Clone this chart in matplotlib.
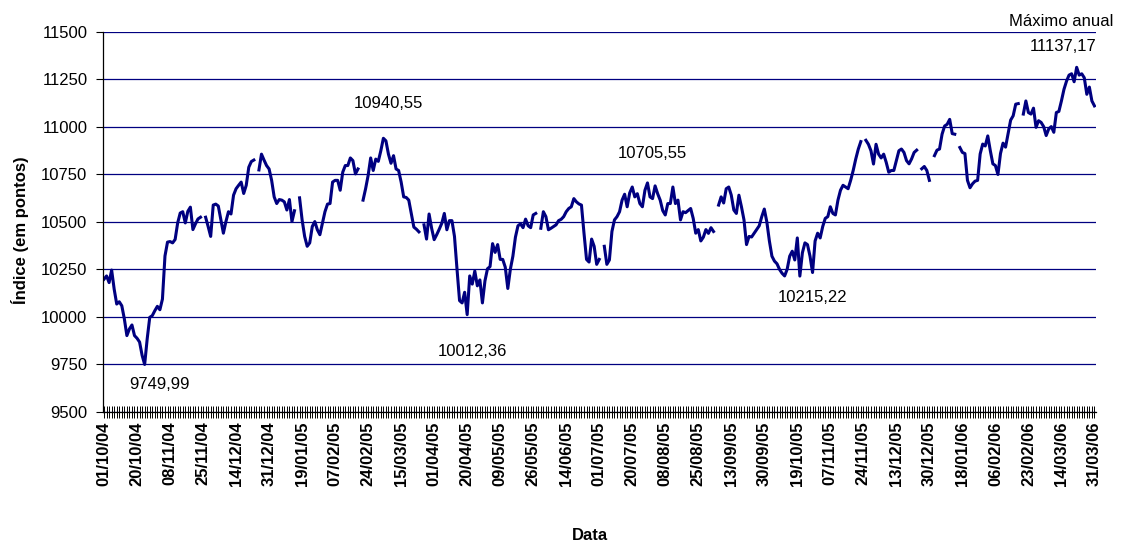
import numpy as np
import pandas as pd
import matplotlib
matplotlib.use("Agg")
import matplotlib.pyplot as plt

plt.rcParams["font.family"] = ["Liberation Sans", "DejaVu Sans"]

nan = np.nan

# trading days (weekdays), holidays left blank
dates = pd.bdate_range("2004-10-01", "2006-03-31")

# closing index, month by month
oct04 = [10199, 10216, 10181, 10247, 10146, 10068, 10080, 10059, 9990, 9902, 9937,
         9958, 9902, 9888, 9868, 9798, 9749.99, 9885, 9998, 10007, 10033]
nov04 = [10056, 10038, 10094, 10321, 10394, 10397, 10390, 10408, 10495, 10547, 10554,
         10495, 10556, 10578, 10460, 10490, 10516, 10525, nan, 10525, 10476, 10424]
dec04 = [10589, 10594, 10584, 10511, 10441, 10502, 10554, 10542, 10641, 10675, 10693,
         10710, 10650, 10693, 10788, 10818, 10826, nan, 10774, 10857, 10826, 10797, 10779]
jan05 = [10719, 10632, 10597, 10618, 10615, 10606, 10563, 10618, 10502, 10559, nan,
         10627, 10511, 10424, 10372, 10390, 10476, 10502, 10459, 10433, 10493]
feb05 = [10554, 10594, 10597, 10710, 10719, 10719, 10667, 10762, 10797, 10797, 10837,
         10823, 10753, 10779, nan, 10615, 10675, 10745, 10837, 10771]
mar05 = [10831, 10819, 10875, 10940.55, 10927, 10857, 10809, 10849, 10779, 10771, 10710,
         10632, 10629, 10615, 10545, 10473, 10462, 10448, nan, 10485, 10410, 10542, 10467]
apr05 = [10407, 10433, 10462, 10493, 10545, 10459, 10507, 10507, 10424, 10251, 10086,
         10074, 10130, 10012.36, 10216, 10173, 10242, 10164, 10195, 10074, 10190]
may05 = [10254, 10265, 10386, 10340, 10381, 10303, 10303, 10262, 10150, 10251, 10320,
         10420, 10480, 10490, 10470, 10515, 10480, 10470, 10537, 10545, nan, 10467]
jun05 = [10554, 10528, 10459, 10467, 10476, 10485, 10507, 10514, 10528, 10554, 10571,
         10580, 10623, 10606, 10595, 10589, 10441, 10303, 10289, 10410, 10372, 10277]
jul05 = [10303, nan, 10372, 10277, 10300, 10450, 10511, 10528, 10554, 10615, 10646,
         10580, 10653, 10684, 10632, 10649, 10597, 10580, 10667, 10705.55, 10632]
aug05 = [10623, 10690, 10649, 10615, 10560, 10537, 10597, 10597, 10684, 10597, 10615,
         10511, 10554, 10549, 10560, 10571, 10519, 10441, 10460, 10400, 10420, 10460, 10440]
sep05 = [10470, 10450, nan, 10589, 10632, 10600, 10675, 10684, 10641, 10563, 10545,
         10641, 10580, 10511, 10381, 10424, 10421, 10441, 10462, 10480, 10528, 10568]
oct05 = [10500, 10400, 10320, 10294, 10280, 10250, 10230, 10216, 10251, 10320, 10346,
         10300, 10416, 10215.22, 10338, 10390, 10381, 10320, 10234, 10400, 10441]
nov05 = [10416, 10476, 10519, 10528, 10580, 10545, 10537, 10615, 10667, 10693, 10684,
         10675, 10719, 10771, 10831, 10883, 10923, nan, 10930, 10909, 10875, 10805]
dec05 = [10909, 10857, 10837, 10857, 10814, 10762, 10771, 10771, 10823, 10875, 10884,
         10866, 10823, 10806, 10832, 10866, 10878, nan, 10780, 10792, 10771, 10719]
jan06 = [nan, 10849, 10878, 10884, 10962, 11005, 11014, 11040, 10965, 10962, nan,
         10892, 10866, 10860, 10719, 10680, 10701, 10715, 10719, 10858, 10910, 10900]
feb06 = [10953, 10875, 10806, 10797, 10750, 10860, 10915, 10894, 10964, 11036, 11059,
         11120, 11123, nan, 11068, 11137, 11076, 11068, 11099, 10998]
mar06 = [11033, 11024, 11002, 10955, 10990, 11002, 10972, 11076, 11082, 11137.17, 11198,
         11241, 11273, 11280, 11238, 11314, 11273, 11280, 11259, 11172, 11210, 11137, 11111]

values = np.array(oct04 + nov04 + dec04 + jan05 + feb05 + mar05 + apr05 + may05 + jun05
                  + jul05 + aug05 + sep05 + oct05 + nov05 + dec05 + jan06 + feb06 + mar06,
                  dtype=float)
assert len(values) == len(dates)

tick_labels = ["01/10/04", "20/10/04", "08/11/04", "25/11/04", "14/12/04", "31/12/04",
               "19/01/05", "07/02/05", "24/02/05", "15/03/05", "01/04/05", "20/04/05",
               "09/05/05", "26/05/05", "14/06/05", "01/07/05", "20/07/05", "08/08/05",
               "25/08/05", "13/09/05", "30/09/05", "19/10/05", "07/11/05", "24/11/05",
               "13/12/05", "30/12/05", "18/01/06", "06/02/06", "23/02/06", "14/03/06",
               "31/03/06"]

# (text, day index, y position)
notes = [("9749,99", 22, 9642), ("10940,55", 112, 11121), ("10012,36", 145, 9816),
         ("10705,55", 216, 10858), ("10215,22", 279, 10100),
         ("Máximo anual", 377, 11555), ("11137,17", 377.5, 11426)]

x = np.arange(len(values))

fig = plt.figure(figsize=(11.23, 5.42), dpi=100)
ax = fig.add_axes([0.0915, 0.2399, 0.8842, 0.7011])

ax.plot(x, values, color="#000080", lw=2.2, solid_joinstyle="round")

ax.set_ylim(9500, 11500)
ax.set_yticks(np.arange(9500, 11501, 250))
ax.yaxis.grid(True, color="#000080", lw=0.9)
ax.set_axisbelow(True)
ax.set_xlim(-0.5, len(values) - 0.5)

ax.set_xticks(x[::13])
ax.set_xticklabels(tick_labels, rotation=90, fontweight="bold", fontsize=12)
ax.set_xticks(x, minor=True)
ax.tick_params(axis="x", which="both", direction="inout", length=8, width=0.7, pad=3)
ax.tick_params(axis="y", direction="out", length=5, width=0.8, labelsize=12, pad=6)

for side in ["top", "right"]:
    ax.spines[side].set_visible(False)
ax.spines["left"].set_linewidth(0.9)
ax.spines["bottom"].set_linewidth(0.9)

for text, xi, yv in notes:
    ax.text(xi, yv, text, ha="center", va="center", fontsize=12, clip_on=False)

fig.text(20 / 1123, 1 - 230 / 542, "Índice (em pontos)", rotation=90,
         ha="center", va="center", fontsize=12, fontweight="bold")
fig.text(590 / 1123, 1 - 535 / 542, "Data", ha="center", va="center",
         fontsize=12, fontweight="bold")

fig.savefig("out.png", dpi=100)
